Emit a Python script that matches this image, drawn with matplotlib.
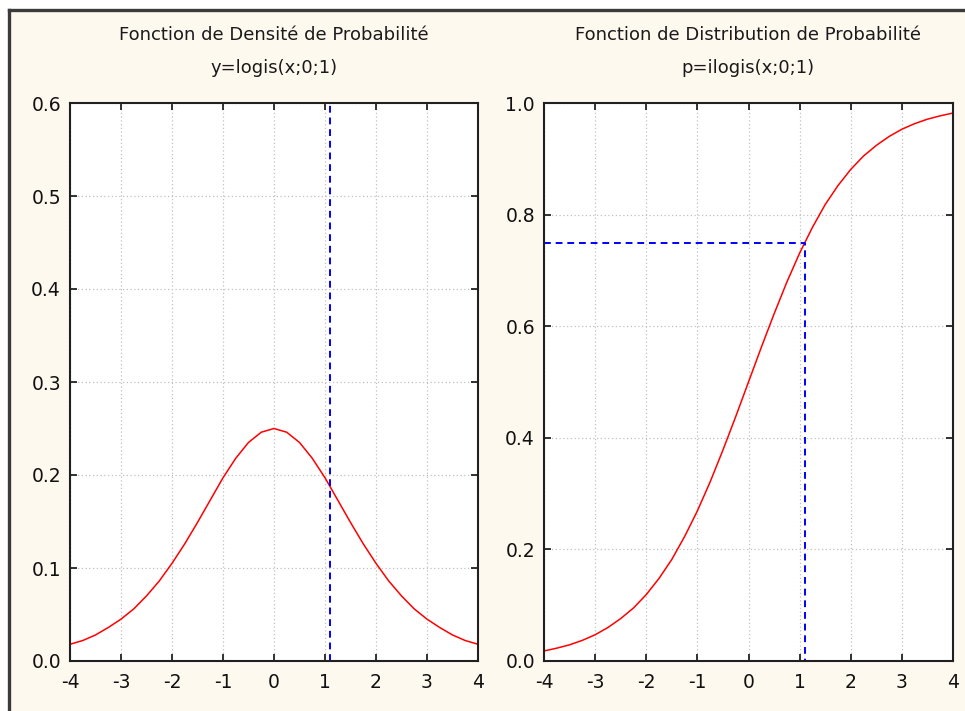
import matplotlib.pyplot as plt
from matplotlib.patches import Rectangle
from matplotlib.lines import Line2D

plt.rcParams['font.family'] = ['DejaVu Sans']

# values
x_vals = [-4.0, -3.75, -3.5, -3.25, -3.0, -2.75, -2.5, -2.25, -2.0, -1.75, -1.5, -1.25,
          -1.0, -0.75, -0.5, -0.25, 0.0, 0.25, 0.5, 0.75, 1.0, 1.25, 1.5, 1.75,
          2.0, 2.25, 2.5, 2.75, 3.0, 3.25, 3.5, 3.75, 4.0]
pdf_vals = [0.018, 0.022, 0.028, 0.036, 0.045, 0.056, 0.070, 0.086, 0.105, 0.126, 0.149, 0.173,
            0.197, 0.218, 0.235, 0.246, 0.250, 0.246, 0.235, 0.218, 0.197, 0.173, 0.149, 0.126,
            0.105, 0.086, 0.070, 0.056, 0.045, 0.036, 0.028, 0.022, 0.018]
cdf_vals = [0.018, 0.023, 0.029, 0.037, 0.047, 0.060, 0.076, 0.095, 0.119, 0.148, 0.182, 0.223,
            0.269, 0.321, 0.378, 0.438, 0.500, 0.562, 0.622, 0.679, 0.731, 0.777, 0.818, 0.852,
            0.881, 0.905, 0.924, 0.940, 0.953, 0.963, 0.971, 0.977, 0.982]
x_quant = 1.1
p_quant = 0.75

x_ticks = [-4, -3, -2, -1, 0, 1, 2, 3, 4]
pdf_ticks = [0.0, 0.1, 0.2, 0.3, 0.4, 0.5, 0.6]
cdf_ticks = [0.0, 0.2, 0.4, 0.6, 0.8, 1.0]

titles = ["Fonction de Densité de Probabilité", "Fonction de Distribution de Probabilité"]
subtitles = ["y=logis(x;0;1)", "p=ilogis(x;0;1)"]

W, H = 965, 711
fig = plt.figure(figsize=(W / 100, H / 100), dpi=100)
fig.patch.set_facecolor('white')

# cream panel with a dark frame on top and left
fig.patches.append(Rectangle((9 / W, 0), 1, 1 - 11 / H, transform=fig.transFigure,
                             facecolor='#fef9ef', edgecolor='none', zorder=-10))
fig.lines.append(Line2D([9 / W, 1], [1 - 10 / H, 1 - 10 / H], transform=fig.transFigure,
                        color='#3a3a3a', lw=2.4, zorder=-5))
fig.lines.append(Line2D([9 / W, 9 / W], [0, 1 - 10 / H], transform=fig.transFigure,
                        color='#3a3a3a', lw=2.4, zorder=-5))

def make_axes(left, right):
    ax = fig.add_axes([left / W, 1 - 661 / H, (right - left) / W, (661 - 103) / H])
    ax.set_facecolor('white')
    ax.grid(True, color='#c0c0c0', linestyle=(0, (1, 2)), linewidth=0.9)
    ax.tick_params(direction='in', top=True, right=True, length=5, width=1.2,
                   labelsize=13.5, colors='#111111')
    ax.tick_params(axis='y', pad=6.5)
    ax.tick_params(axis='x', pad=8.5)
    for s in ax.spines.values():
        s.set_linewidth(1.5)
        s.set_color('#202020')
    ax.set_xlim(-4, 4)
    ax.set_xticks(x_ticks)
    ax.set_xticklabels([str(t) for t in x_ticks])
    return ax

ax1 = make_axes(70, 478)
ax1.plot(x_vals, pdf_vals, color='red', lw=1.1)
ax1.axvline(x_quant, color='blue', lw=1.4, linestyle=(0, (3.5, 2.5)))
ax1.set_ylim(0, 0.6)
ax1.set_yticks(pdf_ticks)
ax1.set_yticklabels([f"{t:.1f}" for t in pdf_ticks])

ax2 = make_axes(544, 953)
ax2.plot(x_vals, cdf_vals, color='red', lw=1.1)
ax2.plot([-4, x_quant, x_quant], [p_quant, p_quant, 0], color='blue', lw=1.4,
         linestyle=(0, (3.5, 2.5)))
ax2.set_ylim(0, 1.0)
ax2.set_yticks(cdf_ticks)
ax2.set_yticklabels([f"{t:.1f}" for t in cdf_ticks])

for cx, t, st in zip([274, 748], titles, subtitles):
    fig.text(cx / W, 1 - 35 / H, t, ha='center', va='center', fontsize=13, color='#1a1a1a')
    fig.text(cx / W, 1 - 68 / H, st, ha='center', va='center', fontsize=13, color='#1a1a1a')

fig.savefig('out.png', dpi=100, facecolor=fig.get_facecolor())
